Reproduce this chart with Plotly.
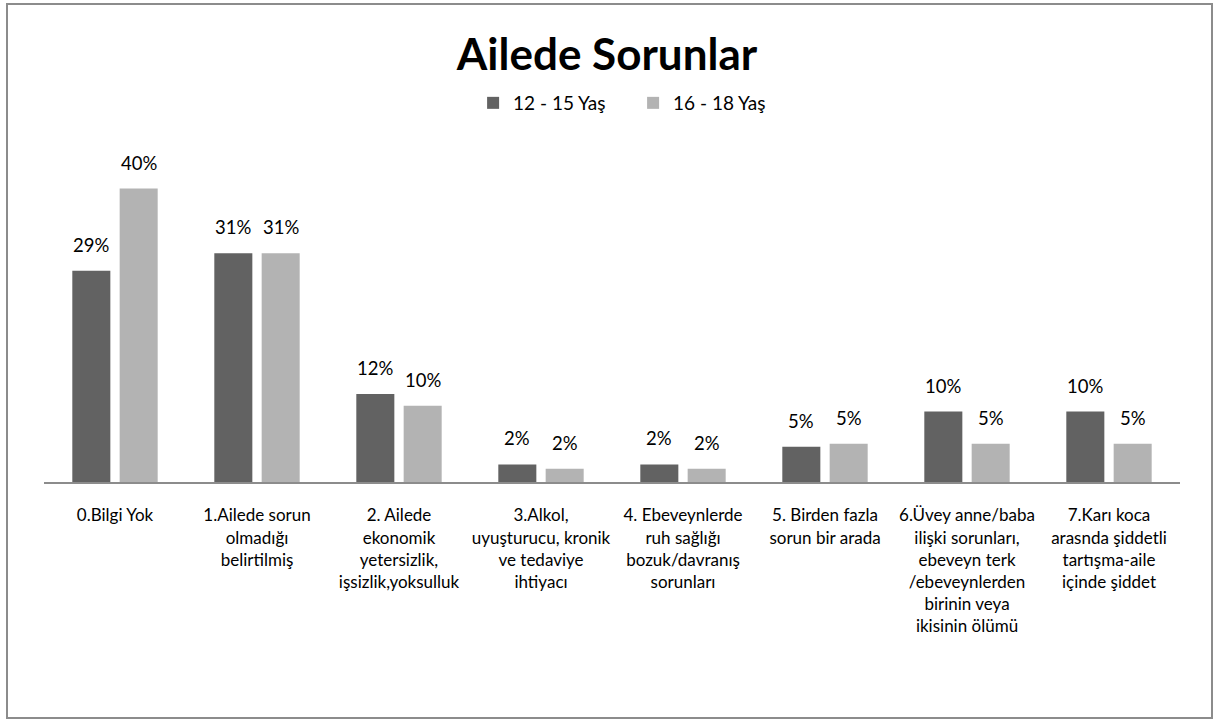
import plotly.graph_objects as go

# Problem categories (x-axis), with manual line breaks for wrapping
categories = [
    "0.Bilgi Yok",
    "1.Ailede sorun<br>olmadığı<br>belirtilmiş",
    "2. Ailede<br>ekonomik<br>yetersizlik,<br>işsizlik,yoksulluk",
    "3.Alkol,<br>uyuşturucu, kronik<br>ve tedaviye<br>ihtiyacı",
    "4. Ebeveynlerde<br>ruh sağlığı<br>bozuk/davranış<br>sorunları",
    "5. Birden fazla<br>sorun bir arada",
    "6.Üvey anne/baba<br>ilişki sorunları,<br>ebeveyn terk<br>/ebeveynlerden<br>birinin veya<br>ikisinin ölümü",
    "7.Karı koca<br>arasnda şiddetli<br>tartışma-aile<br>içinde şiddet",
]

series_names = ["12 - 15 Yaş", "16 - 18 Yaş"]
age_12_15 = [0.288, 0.312, 0.120, 0.024, 0.024, 0.048, 0.096, 0.096]
age_16_18 = [0.400, 0.312, 0.104, 0.018, 0.018, 0.052, 0.052, 0.052]

colors = ["#626262", "#b3b3b3"]
FONT = "Lato, Calibri, sans-serif"

W, H = 1214, 720
M_L, M_R, M_T, M_B = 44, 34, 150, 238
plot_w = W - M_L - M_R
plot_h = H - M_T - M_B

xpos = list(range(len(categories)))

fig = go.Figure()
for name, vals, col in zip(series_names, [age_12_15, age_16_18], colors):
    fig.add_trace(go.Bar(
        x=xpos, y=vals, name=name,
        marker=dict(color=col, line=dict(width=0)),
    ))

# Value labels above each bar, offset to the bar's slot within the group
BARGAP = 0.333
group_px = plot_w / len(categories) * (1 - BARGAP)
offsets = [-group_px / 4, group_px / 4]
annotations = []
for vals, dx in zip([age_12_15, age_16_18], offsets):
    for i, v in enumerate(vals):
        annotations.append(dict(
            x=i, y=v, xref="x", yref="y",
            text=f"{round(v * 100):d}%",
            showarrow=False, xshift=dx, yanchor="bottom", yshift=13,
            font=dict(family=FONT, size=18.5, color="#000000"),
        ))

# Outer chart frame, expressed in plot-domain (paper) units
def px_to_paper_x(px):
    return (px - M_L) / plot_w

def px_to_paper_y(py):
    return (H - M_B - py) / plot_h

fig.add_shape(
    type="rect", xref="paper", yref="paper",
    x0=px_to_paper_x(7), x1=px_to_paper_x(1212),
    y0=px_to_paper_y(718), y1=px_to_paper_y(4),
    line=dict(color="#8c8c8c", width=2), fillcolor="rgba(0,0,0,0)", layer="below",
)

fig.update_layout(
    width=W, height=H, autosize=False,
    margin=dict(l=M_L, r=M_R, t=M_T, b=M_B),
    paper_bgcolor="#ffffff", plot_bgcolor="#ffffff",
    barmode="group", bargap=BARGAP, bargroupgap=0.197,
    title=dict(
        text="<b>Ailede Sorunlar</b>", x=0.5, xref="container", xanchor="center",
        y=1 - 55 / H, yref="container", yanchor="middle",
        font=dict(family=FONT, size=44, color="#000000"),
    ),
    legend=dict(
        orientation="h", x=0.5215, xref="container", xanchor="center",
        y=1 - 103 / H, yref="container", yanchor="middle",
        font=dict(family=FONT, size=19, color="#000000"),
        itemwidth=30, entrywidth=115, traceorder="normal",
    ),
    xaxis=dict(
        tickmode="array", tickvals=xpos, ticktext=categories,
        range=[-0.5, len(categories) - 0.5],
        showline=True, linecolor="#8c8c8c", linewidth=2,
        showgrid=False, zeroline=False, ticks="",
        ticklabelstandoff=17,
        tickfont=dict(family=FONT, size=17, color="#000000"),
    ),
    yaxis=dict(
        range=[0, plot_h / 733.5], visible=False, showgrid=False, zeroline=False,
    ),
    annotations=annotations,
    showlegend=True,
)

fig.write_html("out.html")
